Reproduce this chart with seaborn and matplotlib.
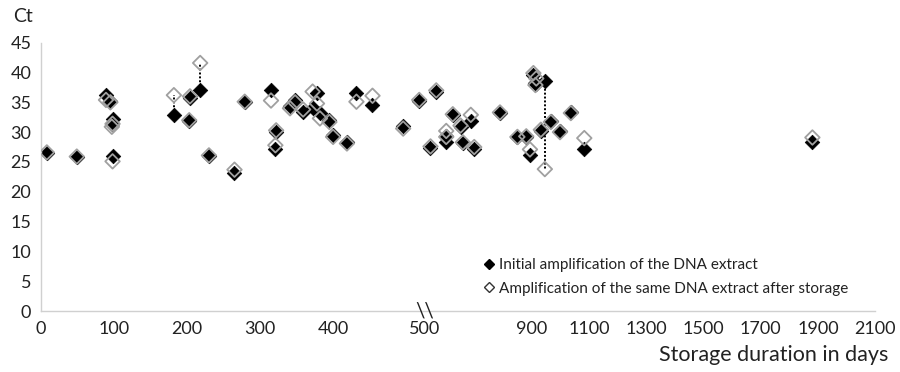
import numpy as np
import pandas as pd
import matplotlib
matplotlib.use("Agg")
import matplotlib.pyplot as plt
from matplotlib.lines import Line2D
import seaborn as sns

sns.set_style("white")
plt.rcParams["font.family"] = ["Lato", "DejaVu Sans"]

# storage duration (days) and Ct of each DNA extract, before and after storage
days = [8, 49, 89, 95, 98, 97, 98, 182, 204, 203, 218, 230, 265, 279, 315, 322, 321,
        341, 348, 359, 372, 378, 382, 395, 400, 419, 432, 454,
        496, 518, 565, 545, 623, 600, 600, 650, 686, 658, 698, 788,
        905, 915, 912, 945, 849, 880, 893, 931, 966, 998, 1036, 1083, 1881]
ct_initial = [26.5, 25.9, 36.3, 35.3, 32.2, 31.4, 26.0, 32.8, 35.8, 31.9, 37.1, 26.0, 23.1, 35.0, 37.0, 30.1, 27.2,
              34.4, 35.4, 33.4, 34.0, 36.5, 33.2, 32.0, 29.6, 28.4, 36.5, 34.5,
              31.1, 35.2, 36.7, 27.4, 32.9, 29.4, 28.4, 30.9, 31.8, 28.1, 27.2, 33.2,
              39.6, 38.0, 38.3, 38.5, 29.1, 29.1, 26.2, 30.2, 31.8, 30.2, 33.3, 27.1, 28.4]
ct_stored = [26.6, 25.9, 35.4, 35.0, 31.4, 30.9, 25.1, 36.2, 36.0, 32.0, 41.6, 26.1, 23.7, 35.1, 35.3, 30.3, 27.8,
             34.0, 35.0, 33.8, 36.8, 34.8, 32.3, 31.7, 29.2, 28.1, 35.1, 36.1,
             30.6, 35.4, 37.0, 27.6, 33.0, 30.2, 29.2, 31.1, 32.9, 28.3, 27.5, 33.3,
             39.9, 39.0, 37.9, 23.8, 29.2, 29.3, 27.1, 30.4, 31.7, 30.0, 33.2, 29.0, 29.1]
linked_days = [182, 218, 945]  # pairs joined by a dotted line

x_ticks = [0, 100, 200, 300, 400, 526, 700, 900, 1100, 1300, 1500, 1700, 1900, 2100]
x_labels = ["0", "100", "200", "300", "400", "500", "", "900", "1100", "1300",
            "1500", "1700", "1900", "2100"]
y_ticks = list(range(0, 50, 5))

df = pd.DataFrame({"days": days, "initial": ct_initial, "stored": ct_stored})

# broken axis: compressed scale after the break
B = 526.0
R = 0.3915


def fwd(d):
    d = np.asarray(d, dtype=float)
    return np.where(d <= B, d, B + (d - B) * R)


def inv(u):
    u = np.asarray(u, dtype=float)
    return np.where(u <= B, u, B + (u - B) / R)


fig = plt.figure(figsize=(9, 3.72), dpi=100)
ax = fig.add_axes([41 / 900, 1 - 311 / 372, (875 - 41) / 900, (311 - 42.7) / 372])

lk = df[df["days"].isin(linked_days)]
ax.vlines(lk["days"], lk["initial"], lk["stored"], colors="black",
          linestyles=(0, (1, 1)), linewidth=1.4, zorder=1)

sns.scatterplot(data=df, x="days", y="initial", marker="D", s=55, color="black",
                edgecolor="black", linewidth=0.5, ax=ax, zorder=2)
sns.scatterplot(data=df, x="days", y="stored", marker="D", s=55, color="#a0a0a0",
                edgecolor="#a0a0a0", linewidth=1.3, ax=ax, zorder=3)
ax.collections[-1].set_facecolor("none")

ax.set_xscale("function", functions=(fwd, inv))
ax.set_xlim(0, 2100)
ax.set_ylim(0, 45)
ax.set_xticks(x_ticks)
ax.set_xticklabels(x_labels)
ax.set_yticks(y_ticks)
ax.set_xlabel("")
ax.set_ylabel("")

for s in ["top", "right"]:
    ax.spines[s].set_visible(False)
for s in ["left", "bottom"]:
    ax.spines[s].set_color("#d0d0d0")
    ax.spines[s].set_linewidth(1)

ax.tick_params(axis="x", direction="inout", length=5, width=1, color="#d0d0d0",
               labelsize=13, labelcolor="#222222", pad=5)
ax.tick_params(axis="y", direction="out", length=3, width=1, color="#d0d0d0",
               labelsize=13, labelcolor="#222222", pad=4)

ax.text(B, 0, r"\\", ha="center", va="center", fontsize=15, color="#222222",
        clip_on=False, zorder=5)

fig.text(13 / 900, 1 - 17 / 372, "Ct", fontsize=14, color="#222222", va="center", ha="left")
fig.text(888 / 900, 1 - 355 / 372, "Storage duration in days", fontsize=15.5,
         color="#222222", va="center", ha="right")

handles = [
    Line2D([], [], marker="D", linestyle="none", color="black", markersize=5.5),
    Line2D([], [], marker="D", linestyle="none", markerfacecolor="none",
           markeredgecolor="#333333", markersize=5.5, markeredgewidth=1),
]
ax.legend(handles, ["Initial amplification of the DNA extract",
                    "Amplification of the same DNA extract after storage"],
          loc="center left", bbox_to_anchor=(484 / 900, 1 - 277 / 372),
          bbox_transform=fig.transFigure, frameon=False, fontsize=11,
          handlelength=0.6, handletextpad=0.35, labelspacing=0.6, borderpad=0,
          borderaxespad=0, labelcolor="#222222")

fig.savefig("out.png", dpi=100)
